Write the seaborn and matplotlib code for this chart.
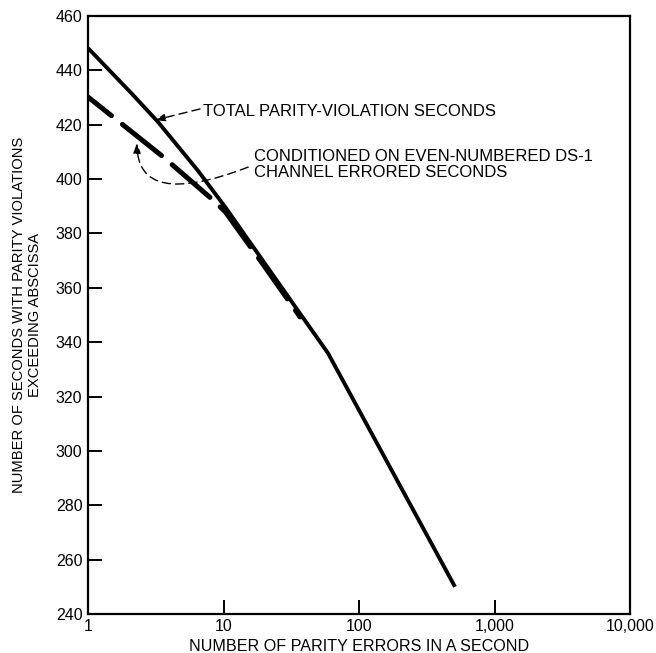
import numpy as np
import pandas as pd
import seaborn as sns
import matplotlib
matplotlib.use("Agg")
import matplotlib.pyplot as plt
from matplotlib.ticker import FixedLocator, FixedFormatter, NullLocator

# ---- data ----
total_x = [1, 2.08, 3.29, 6.5, 10.3, 35, 59, 511]
total_y = [448.2, 431.7, 421.0, 403.0, 389.7, 352.0, 336.0, 250.0]

cond_x = [1, 3.52, 8.37, 10.3, 20, 36.7]
cond_y = [430.2, 408.5, 392.3, 388.0, 368.0, 349.3]

x_ticks = [1, 10, 100, 1000, 10000]
x_tick_labels = ["1", "10", "100", "1,000", "10,000"]
y_ticks = list(range(240, 461, 20))

label_total = "TOTAL PARITY-VIOLATION SECONDS"
label_cond = "CONDITIONED ON EVEN-NUMBERED DS-1\nCHANNEL ERRORED SECONDS"
xlabel = "NUMBER OF PARITY ERRORS IN A SECOND"
ylabel = "NUMBER OF SECONDS WITH PARITY VIOLATIONS\nEXCEEDING ABSCISSA"

sns.set_style("ticks")
plt.rcParams['font.family'] = ['Liberation Sans', 'DejaVu Sans']
plt.rcParams['text.color'] = 'black'
plt.rcParams['axes.labelcolor'] = 'black'

df_total = pd.DataFrame({"x": total_x, "y": total_y})
df_cond = pd.DataFrame({"x": cond_x, "y": cond_y})

fig = plt.figure(figsize=(6.56, 6.53), dpi=100)
ax = fig.add_axes([88/656, 39/653, 542/656, 598/653])

sns.lineplot(data=df_total, x="x", y="y", ax=ax, color="black", lw=2.8,
             solid_capstyle="butt", solid_joinstyle="round")
sns.lineplot(data=df_cond, x="x", y="y", ax=ax, color="black", lw=3.6,
             linestyle=(4.0, (10.0, 2.8)), dash_capstyle="round")

ax.set_xscale("log")
ax.set_xlim(1, 10000)
ax.set_ylim(240, 460)
ax.xaxis.set_major_locator(FixedLocator(x_ticks))
ax.xaxis.set_major_formatter(FixedFormatter(x_tick_labels))
ax.xaxis.set_minor_locator(NullLocator())
ax.set_yticks(y_ticks)

ax.tick_params(axis="both", which="major", direction="in", length=10, width=1.4,
               labelsize=11.5, color="black", labelcolor="black")
ax.tick_params(axis="x", pad=3.5)
ax.tick_params(axis="y", pad=4)
for s in ax.spines.values():
    s.set_visible(True)
    s.set_linewidth(1.6)
    s.set_color("black")

ax.set_xlabel(xlabel, fontsize=11.6, color="black")
ax.xaxis.set_label_coords(0.5, -0.041)
ax.set_ylabel(ylabel, fontsize=10.6, linespacing=1.2, color="black")
ax.yaxis.set_label_coords(-0.085, 0.5)

arrow_kw = dict(arrowstyle="-|>,head_length=0.6,head_width=0.22", color="black",
                lw=1.0, linestyle=(0, (6, 3.6)), mutation_scale=10,
                shrinkA=0, shrinkB=0)

ax.text(7.06, 425.0, label_total, fontsize=12, va="center", ha="left",
        color="black")
ax.annotate("", xy=(3.12, 421.7), xytext=(6.71, 425.8), arrowprops=arrow_kw)

ax.text(16.8, 405.5, label_cond, fontsize=12, va="center", ha="left",
        linespacing=1.08, color="black")
ax.annotate("", xy=(2.3, 413.3), xytext=(15.2, 404.4),
            arrowprops=dict(arrow_kw,
                            connectionstyle="angle3,angleA=-159,angleB=90"))

fig.savefig("out.png", dpi=100)
